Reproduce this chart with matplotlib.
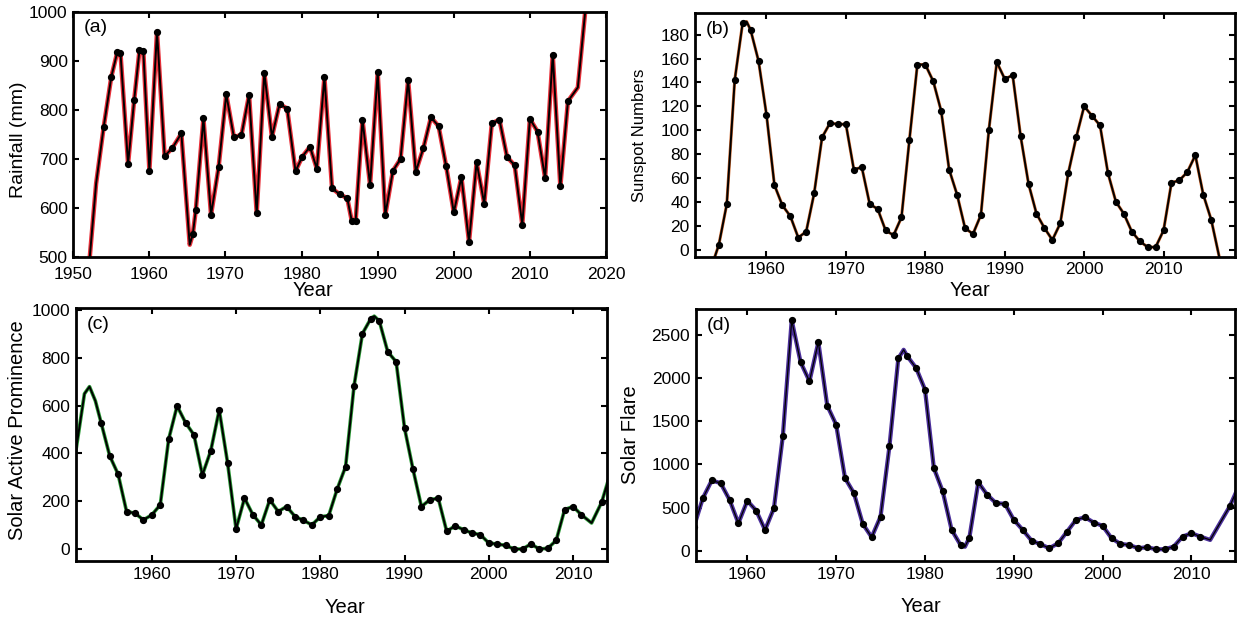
import numpy as np
import matplotlib.pyplot as plt

plt.rcParams['font.family'] = ['Liberation Sans', 'DejaVu Sans']

# (a) rainfall: dots
rain_year = [1954, 1955, 1955.8, 1956.2, 1957.2, 1958, 1958.7, 1959.2, 1960, 1961,
             1962, 1963, 1964.2, 1965.7, 1966.1, 1967.1, 1968.1, 1969.1, 1970.1, 1971.1,
             1972.1, 1973.1, 1974.1, 1975.1, 1976.1, 1977.1, 1978.1, 1979.2, 1980.1, 1981.1,
             1982, 1983, 1984, 1985, 1986, 1986.6, 1987.1, 1988, 1989, 1990,
             1991, 1992, 1993, 1994, 1995, 1996, 1997, 1998, 1999, 2000,
             2001, 2002, 2003, 2004, 2005, 2006, 2007, 2008, 2009, 2010,
             2011, 2012, 2013, 2014, 2015]
rain_mm = [766, 868, 919, 916, 690, 820, 922, 921, 676, 960,
           706, 722, 752, 546, 596, 783, 586, 684, 832, 745,
           749, 831, 589, 876, 745, 812, 803, 675, 705, 725,
           680, 867, 640, 628, 620, 573, 573, 780, 647, 877,
           586, 676, 700, 861, 674, 722, 785, 767, 685, 591,
           663, 531, 693, 609, 773, 780, 704, 687, 566, 782,
           756, 661, 913, 644, 818]
# extra points of the fitted curve (no dot)
rain_curve_year = [1952, 1953, 1965.3, 2016.3, 2017.2, 2018]
rain_curve_mm = [470, 650, 525, 846, 990, 1120]

# (b) sunspot numbers
sun_year = list(range(1954, 2017))
sun_num = [4, 38, 142, 190, 184, 158, 113, 54, 37, 28,
           10, 15, 47, 94, 106, 105, 105, 67, 69, 38,
           34, 16, 12, 27, 92, 155, 155, 141, 116, 67,
           46, 18, 13, 29, 100, 157, 143, 146, 95, 55,
           30, 18, 8, 22, 64, 94, 120, 112, 104, 64,
           40, 30, 15, 7, 2, 2, 16, 56, 58, 65,
           79, 46, 25]
sun_curve_year = [1953.2, 1957.5, 2017.2]
sun_curve_num = [-12, 191, -12]

# (c) solar active prominence
prom_year = list(range(1954, 2012)) + [2013.4]
prom_val = [526, 390, 313, 157, 150, 122, 143, 185, 460, 599,
            529, 478, 310, 412, 582, 359, 84, 213, 143, 101,
            206, 157, 178, 136, 120, 101, 135, 140, 251, 345,
            682, 902, 965, 955, 826, 784, 506, 334, 178, 206,
            213, 74, 97, 81, 67, 60, 25, 21, 15, 0,
            0, 21, 0, 3, 36, 165, 178, 143, 196]
prom_curve_year = [1951, 1952, 1952.6, 1953.3, 1986.4, 2012.2, 2014.2]
prom_curve_val = [415, 650, 680, 620, 975, 109, 290]

# (d) solar flare
flare_year = list(range(1954, 2012)) + [2014.3]
flare_val = [279, 609, 814, 783, 590, 318, 578, 465, 240, 493,
             1326, 2674, 2186, 1965, 2419, 1682, 1462, 842, 667, 310,
             156, 395, 1209, 2229, 2256, 2120, 1869, 958, 686, 241,
             66, 151, 791, 648, 551, 543, 357, 241, 116, 74,
             28, 86, 221, 357, 388, 326, 287, 144, 78, 66,
             28, 40, 16, 16, 47, 163, 202, 163, 512]
flare_curve_year = [1977.6, 1984.5, 2012.1, 2015.2]
flare_curve_val = [2330, 45, 124, 720]


def curve(x, y, cx, cy):
    xx = np.concatenate([x, cx])
    yy = np.concatenate([y, cy])
    o = np.argsort(xx)
    return xx[o], yy[o]


def style(ax):
    for s in ax.spines.values():
        s.set_linewidth(2)
    ax.tick_params(direction='in', length=4, width=1.5, top=True, right=True,
                   labelsize=12.5, pad=4)


fig = plt.figure(figsize=(12.38, 6.2), dpi=100)
axa = fig.add_axes([0.0592, 0.5855, 0.4303, 0.3952])
axb = fig.add_axes([0.5614, 0.586, 0.4362, 0.3926])
axc = fig.add_axes([0.0614, 0.0952, 0.4287, 0.4076])
axd = fig.add_axes([0.562, 0.0952, 0.4356, 0.4060])

panels = [
    (axa, rain_year, rain_mm, rain_curve_year, rain_curve_mm, '#e8303a', 3.2, 'Rainfall (mm)', 14, '(a)'),
    (axb, sun_year, sun_num, sun_curve_year, sun_curve_num, '#c8642a', 2.2, 'Sunspot Numbers', 12, '(b)'),
    (axc, prom_year, prom_val, prom_curve_year, prom_curve_val, '#2a9a35', 2.6, 'Solar Active Prominence', 14.5, '(c)'),
    (axd, flare_year, flare_val, flare_curve_year, flare_curve_val, '#4b2f9a', 3.0, 'Solar Flare', 14.5, '(d)'),
]

for ax, x, y, cx, cy, col, lw, ylab, fs, tag in panels:
    lx, ly = curve(np.array(x, float), np.array(y, float), cx, cy)
    ax.plot(lx, ly, color=col, lw=lw, solid_joinstyle='round', zorder=2)
    ax.plot(lx, ly, color='black', lw=1.4 if tag != '(d)' else 0.9,
            solid_joinstyle='round', zorder=3)
    ax.plot(x, y, 'o', color='black', ms=4.2, zorder=4)
    style(ax)
    ax.set_ylabel(ylab, fontsize=fs)
    ax.set_xlabel('Year', fontsize=14.5)
    ax.text(0.02, 0.97, tag, transform=ax.transAxes, fontsize=14, va='top', ha='left')

axa.set_xlim(1950, 2020)
axa.set_ylim(500, 1000)
axa.set_xticks(range(1950, 2021, 10))
axa.set_yticks(range(500, 1001, 100))
axa.tick_params(axis='x', pad=7)
axa.xaxis.set_label_coords(0.45, -0.10)
axa.yaxis.set_label_coords(-0.087, 0.478)

axb.set_xlim(1951, 2019)
axb.set_ylim(-6, 198)
axb.set_xticks(range(1960, 2011, 10))
axb.set_yticks(range(0, 181, 20))
axb.xaxis.set_label_coords(0.509, -0.10)
axb.yaxis.set_label_coords(-0.089, 0.5)

axc.set_xlim(1951, 2014)
axc.set_ylim(-50, 1008)
axc.set_xticks(range(1960, 2011, 10))
axc.set_yticks(range(0, 1001, 200))
axc.xaxis.set_label_coords(0.507, -0.146)
axc.yaxis.set_label_coords(-0.092, 0.518)

axd.set_xlim(1954.2, 2014.9)
axd.set_ylim(-120, 2800)
axd.set_xticks(range(1960, 2011, 10))
axd.set_yticks(range(0, 2501, 500))
axd.xaxis.set_label_coords(0.418, -0.143)
axd.yaxis.set_label_coords(-0.103, 0.50)

fig.savefig('out.png', dpi=100)
